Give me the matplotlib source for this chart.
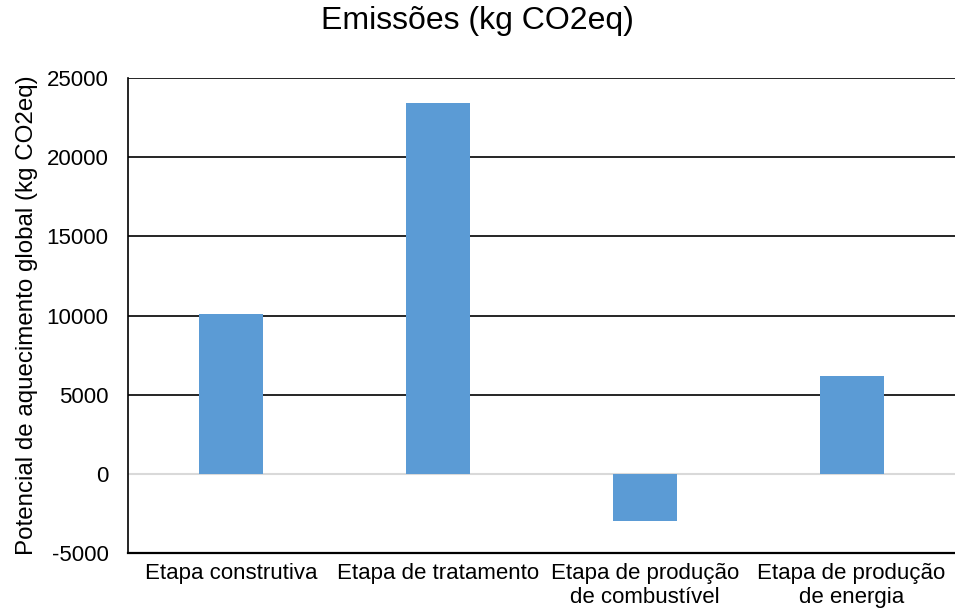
import matplotlib
matplotlib.use('Agg')
import matplotlib.pyplot as plt
import numpy as np

plt.rcParams['font.family'] = ['Liberation Sans', 'DejaVu Sans']

# ── Data ──
categories = [
    "Etapa construtiva",
    "Etapa de tratamento",
    "Etapa de produção\nde combustível",
    "Etapa de produção\nde energia",
]
emissions = [10100, 23400, -2950, 6150]
yticks = [-5000, 0, 5000, 10000, 15000, 20000, 25000]

fig = plt.figure(figsize=(9.55, 6.12), dpi=100)
ax = fig.add_axes([0.134, 0.0964, 0.866, 0.776])

x = np.arange(len(categories))
ax.bar(x, emissions, width=0.31, color='#5b9bd5', zorder=3)

ax.set_xlim(-0.5, 3.5)
ax.set_ylim(-5000, 25000)
ax.set_yticks(yticks)
ax.set_yticklabels([str(v) for v in yticks], fontsize=16)
ax.set_xticks(x)
ax.set_xticklabels(categories, fontsize=16, linespacing=1.2)
ax.tick_params(axis='y', length=0, pad=14)
ax.tick_params(axis='x', length=0, pad=7)

# horizontal grid: black lines, light grey at zero
for v in yticks[2:]:
    ax.axhline(v, color='black', linewidth=1.2, zorder=1)
ax.axhline(0, color='#d9d9d9', linewidth=1.5, zorder=2)

for side in ['top', 'right']:
    ax.spines[side].set_visible(False)
ax.spines['left'].set_linewidth(1.2)
ax.spines['bottom'].set_linewidth(1.6)

ax.set_ylabel('Potencial de aquecimento global (kg CO2eq)', fontsize=17.4, labelpad=6)
fig.suptitle('Emissões (kg CO2eq)', fontsize=23, y=0.99)

fig.savefig('out.png', dpi=100)
